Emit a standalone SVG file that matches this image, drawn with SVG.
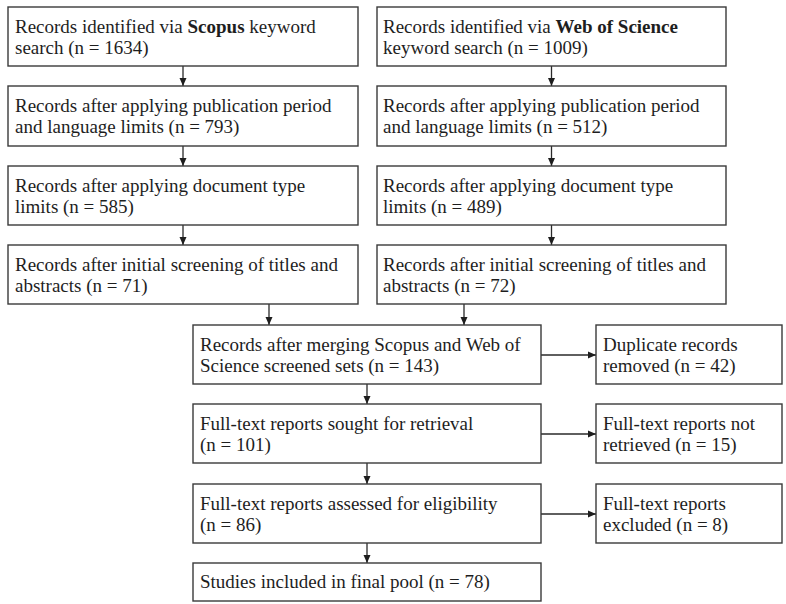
<svg xmlns="http://www.w3.org/2000/svg" width="786" height="604" viewBox="0 0 786 604">
<style>
.box{fill:#fff;stroke:#3a3a3a;stroke-width:1.4}
.t{font-family:"Liberation Serif","Times New Roman",serif;font-size:19px;fill:#1e1e1e}
.b{font-weight:bold}
.c{stroke:#2a2a2a;stroke-width:1.3;fill:none;marker-end:url(#ah)}
</style>
<defs>
<marker id="ah" markerWidth="8" markerHeight="8" refX="8" refY="4" orient="auto" markerUnits="userSpaceOnUse">
<path d="M0,0.5 L8,4 L0,7.5 z" fill="#1e1e1e"/>
</marker>
</defs>
<rect width="786" height="604" fill="#fff"/>
<g id="connectors">
<line class="c" x1="183" y1="66" x2="183" y2="86"/>
<line class="c" x1="183" y1="146" x2="183" y2="166"/>
<line class="c" x1="183" y1="225" x2="183" y2="245"/>
<line class="c" x1="551.5" y1="66" x2="551.5" y2="86"/>
<line class="c" x1="551.5" y1="146" x2="551.5" y2="166"/>
<line class="c" x1="551.5" y1="225" x2="551.5" y2="245"/>
<line class="c" x1="269" y1="304" x2="269" y2="325"/>
<line class="c" x1="464" y1="304" x2="464" y2="325"/>
<line class="c" x1="367" y1="384" x2="367" y2="404"/>
<line class="c" x1="367" y1="463" x2="367" y2="484"/>
<line class="c" x1="367" y1="543" x2="367" y2="563"/>
<line class="c" x1="541" y1="355" x2="596" y2="355"/>
<line class="c" x1="541" y1="434" x2="596" y2="434"/>
<line class="c" x1="541" y1="514" x2="596" y2="514"/>
</g>
<g id="scopus1"><rect class="box" x="8" y="7" width="350" height="59"/>
<text class="t" x="15" y="33">Records identified via <tspan class="b">Scopus</tspan> keyword</text>
<text class="t" x="15" y="54">search (n = 1634)</text></g>
<g id="scopus2"><rect class="box" x="8" y="86" width="350" height="60"/>
<text class="t" x="15" y="112">Records after applying publication period</text>
<text class="t" x="15" y="133">and language limits (n = 793)</text></g>
<g id="scopus3"><rect class="box" x="8" y="166" width="350" height="59"/>
<text class="t" x="15" y="192">Records after applying document type</text>
<text class="t" x="15" y="213">limits (n = 585)</text></g>
<g id="scopus4"><rect class="box" x="8" y="245" width="350" height="59"/>
<text class="t" x="15" y="271">Records after initial screening of titles and</text>
<text class="t" x="15" y="292">abstracts (n = 71)</text></g>
<g id="wos1"><rect class="box" x="377" y="7" width="349" height="59"/>
<text class="t" x="383" y="33">Records identified via <tspan class="b">Web of Science</tspan></text>
<text class="t" x="383" y="54">keyword search (n = 1009)</text></g>
<g id="wos2"><rect class="box" x="377" y="86" width="349" height="60"/>
<text class="t" x="383" y="112">Records after applying publication period</text>
<text class="t" x="383" y="133">and language limits (n = 512)</text></g>
<g id="wos3"><rect class="box" x="377" y="166" width="349" height="59"/>
<text class="t" x="383" y="192">Records after applying document type</text>
<text class="t" x="383" y="213">limits (n = 489)</text></g>
<g id="wos4"><rect class="box" x="377" y="245" width="349" height="59"/>
<text class="t" x="383" y="271">Records after initial screening of titles and</text>
<text class="t" x="383" y="292">abstracts (n = 72)</text></g>
<g id="merged"><rect class="box" x="193" y="325" width="348" height="59"/>
<text class="t" x="200" y="351">Records after merging Scopus and Web of</text>
<text class="t" x="200" y="372">Science screened sets (n = 143)</text></g>
<g id="duplicates"><rect class="box" x="596" y="325" width="186" height="59"/>
<text class="t" x="603" y="351">Duplicate records</text>
<text class="t" x="603" y="372">removed (n = 42)</text></g>
<g id="sought"><rect class="box" x="193" y="404" width="348" height="59"/>
<text class="t" x="200" y="430">Full-text reports sought for retrieval</text>
<text class="t" x="200" y="451">(n = 101)</text></g>
<g id="notretrieved"><rect class="box" x="596" y="404" width="186" height="59"/>
<text class="t" x="603" y="430">Full-text reports not</text>
<text class="t" x="603" y="451">retrieved (n = 15)</text></g>
<g id="assessed"><rect class="box" x="193" y="484" width="348" height="59"/>
<text class="t" x="200" y="510">Full-text reports assessed for eligibility</text>
<text class="t" x="200" y="531">(n = 86)</text></g>
<g id="excluded"><rect class="box" x="596" y="484" width="186" height="59"/>
<text class="t" x="603" y="510">Full-text reports</text>
<text class="t" x="603" y="531">excluded (n = 8)</text></g>
<g id="included"><rect class="box" x="193" y="563" width="348" height="38"/>
<text class="t" x="200" y="588">Studies included in final pool (n = 78)</text></g>
</svg>
